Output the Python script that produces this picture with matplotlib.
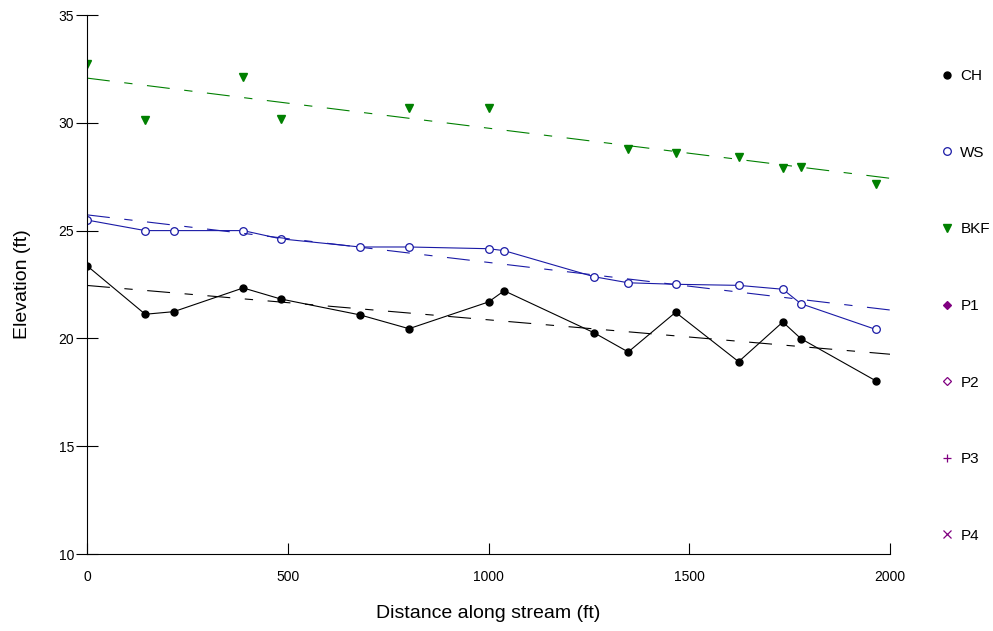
import numpy as np
import matplotlib
matplotlib.use("Agg")
import matplotlib.pyplot as plt

plt.rcParams["font.family"] = ["Liberation Sans", "DejaVu Sans"]
plt.rcParams["lines.scale_dashes"] = False

# -------------------------
# Datos
# -------------------------
ch_dist = [0, 145, 216, 389, 482, 680, 802, 1000, 1039, 1263, 1348, 1466, 1623, 1733, 1778, 1964]
ch_elev = [23.37, 21.12, 21.24, 22.34, 21.83, 21.09, 20.45, 21.69, 22.21, 20.26, 19.37, 21.21,
           18.92, 20.76, 19.99, 18.04]

ws_dist = [0, 145, 216, 389, 482, 680, 802, 1000, 1039, 1263, 1348, 1466, 1623, 1733, 1778, 1964]
ws_elev = [25.49, 25.0, 25.0, 25.0, 24.62, 24.24, 24.24, 24.16, 24.07, 22.86, 22.58, 22.51,
           22.46, 22.28, 21.61, 20.42]

bkf_dist = [0, 145, 389, 482, 802, 1000, 1348, 1466, 1623, 1733, 1778, 1964]
bkf_elev = [32.71, 30.13, 32.14, 30.18, 30.67, 30.67, 28.77, 28.59, 28.43, 27.89, 27.96, 27.16]

x_ticks = [0, 500, 1000, 1500, 2000]
y_ticks = [10, 15, 20, 25, 30, 35]

# -------------------------
# Figura
# -------------------------
fig = plt.figure(figsize=(9.93, 6.31), dpi=100)
ax = fig.add_axes([87 / 993, 1 - 554 / 631, 803 / 993, 539 / 631])

dash = (0, (16.5, 10.5, 6, 10.5))
fit_x = np.array([0, 2000])

series = [
    (ch_dist, ch_elev, "black", dict(marker="o", ms=5, mfc="black", mec="black"), "-", "CH"),
    (ws_dist, ws_elev, "#1a1aa6", dict(marker="o", ms=5.5, mfc="white", mec="#1a1aa6", mew=0.9), "-", "WS"),
    (bkf_dist, bkf_elev, "green", dict(marker="v", ms=5.5, mfc="green", mec="green"), "none", "BKF"),
]

handles = []
for d, e, color, mk, ls, label in series:
    ax.plot(d, e, color=color, lw=0.8, ls=ls, **mk)
    # recta de tendencia
    slope, inter = np.polyfit(d, e, 1)
    ax.plot(fit_x, inter + slope * fit_x, color=color, lw=0.8, ls=dash)
    h, = ax.plot([], [], ls="none", label=label, **mk)
    handles.append(h)

purple = "#800080"
for mk, fill, ms, label in [("D", purple, 4.5, "P1"), ("D", "white", 4.5, "P2"),
                            ("+", purple, 6, "P3"), ("x", purple, 5.5, "P4")]:
    h, = ax.plot([], [], ls="none", marker=mk, color=purple, mfc=fill, mec=purple, ms=ms, mew=0.9, label=label)
    handles.append(h)

ax.set_xlim(0, 2000)
ax.set_ylim(10, 35)
ax.set_xticks(x_ticks)
ax.set_yticks(y_ticks)
for s in ["top", "right"]:
    ax.spines[s].set_visible(False)
for s in ["left", "bottom"]:
    ax.spines[s].set_linewidth(0.8)

ax.tick_params(axis="x", direction="in", length=8, width=0.8, pad=11.5, labelsize=10)
ax.tick_params(axis="y", direction="inout", length=16.5, width=0.8, pad=1, labelsize=10)

ax.set_xlabel("Distance along stream (ft)", fontsize=14, labelpad=15.5)
ax.set_ylabel("Elevation (ft)", fontsize=14, labelpad=20)

fig.legend(handles=handles, loc="upper left", bbox_to_anchor=(942 / 993, 1 - 69 / 631),
           frameon=False, fontsize=11, handlelength=0.7, handletextpad=0.5,
           labelspacing=4.1, borderpad=0, borderaxespad=0)

fig.savefig("out.png", dpi=100)
